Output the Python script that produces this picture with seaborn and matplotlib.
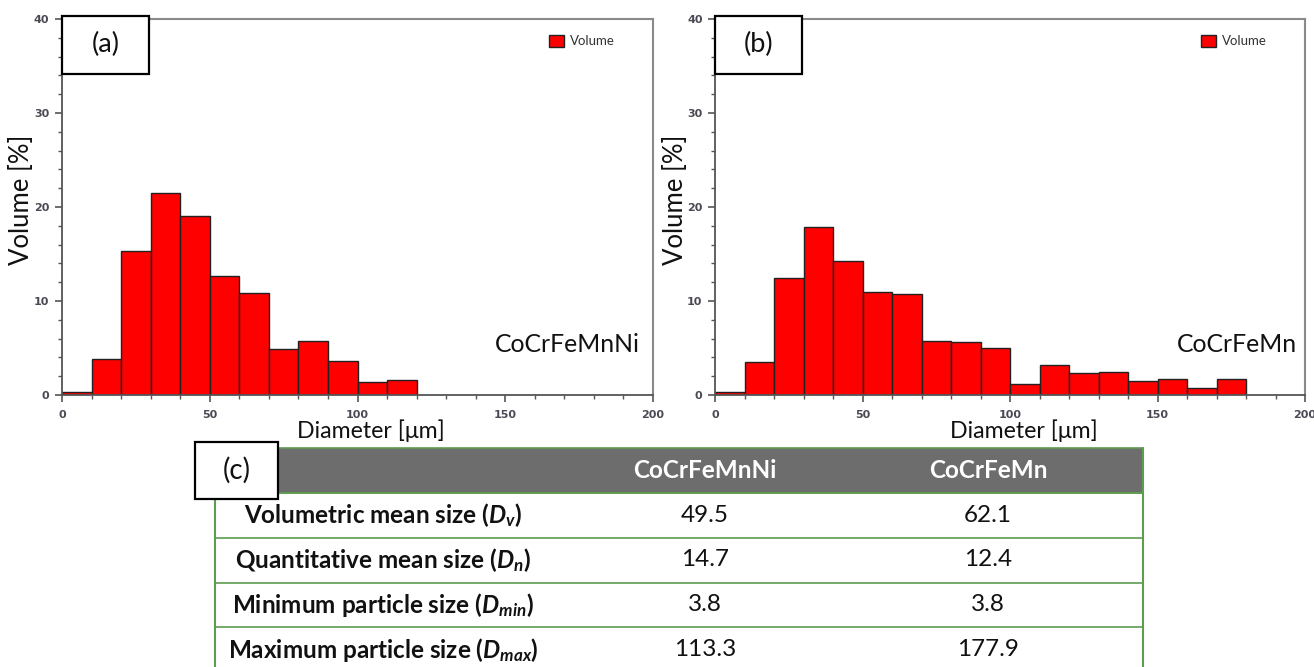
import numpy as np
import pandas as pd
import matplotlib
matplotlib.use("Agg")
import matplotlib.pyplot as plt
from matplotlib.patches import Rectangle
import seaborn as sns

# ---------------- data ----------------
bin_centers_a = [5, 15, 25, 35, 45, 55, 65, 75, 85, 95, 105, 115]
volume_a = [0.3, 3.8, 15.3, 21.5, 19.0, 12.7, 10.9, 4.9, 5.7, 3.6, 1.35, 1.6]

bin_centers_b = [5, 15, 25, 35, 45, 55, 65, 75, 85, 95, 105, 115, 125, 135, 145, 155, 165, 175]
volume_b = [0.3, 3.5, 12.4, 17.85, 14.3, 11.0, 10.75, 5.7, 5.6, 5.0, 1.2, 3.15, 2.35, 2.4, 1.5, 1.75, 0.75, 1.75]

bin_edges_a = [0, 10, 20, 30, 40, 50, 60, 70, 80, 90, 100, 110, 120]
bin_edges_b = [0, 10, 20, 30, 40, 50, 60, 70, 80, 90, 100, 110, 120, 130, 140, 150, 160, 170, 180]

alloys = ["CoCrFeMnNi", "CoCrFeMn"]
panel_tags = ["(a)", "(b)"]
table_rows = [
    r"Volumetric mean size ($D_{v}$)",
    r"Quantitative mean size ($D_{n}$)",
    r"Minimum particle size ($D_{min}$)",
    r"Maximum particle size ($D_{max}$)",
]
table_vals_a = ["49.5", "14.7", "3.8", "113.3"]
table_vals_b = ["62.1", "12.4", "3.8", "177.9"]

x_ticks = [0, 50, 100, 150, 200]
y_ticks = [0, 10, 20, 30, 40]

# ---------------- style ----------------
sns.set_style("ticks")
plt.rcParams["font.family"] = ["Lato", "DejaVu Sans"]
plt.rcParams["mathtext.fontset"] = "custom"
plt.rcParams["mathtext.it"] = "Lato:italic:bold"
plt.rcParams["mathtext.rm"] = "Lato:bold"
plt.rcParams["mathtext.bf"] = "Lato:bold"

W, H = 1314, 667
fig = plt.figure(figsize=(W / 100, H / 100), dpi=100)

axes_px = [(62, 653), (715, 1305)]
top_px, bot_px = 19, 395

datasets = [
    (bin_centers_a, volume_a, bin_edges_a),
    (bin_centers_b, volume_b, bin_edges_b),
]

for i, ((xl, xr), (centers, vols, edges)) in enumerate(zip(axes_px, datasets)):
    ax = fig.add_axes([xl / W, 1 - bot_px / H, (xr - xl) / W, (bot_px - top_px) / H])
    df = pd.DataFrame({"Diameter": centers, "Volume": vols})
    sns.histplot(data=df, x="Diameter", weights="Volume", bins=edges, ax=ax,
                 color="#ff0000", edgecolor="#222222", linewidth=1.0, alpha=1,
                 label="Volume")
    ax.set_xlim(0, 200)
    ax.set_ylim(0, 40)
    ax.set_xticks(x_ticks)
    ax.set_yticks(y_ticks)
    ax.set_xticks(np.arange(0, 201, 10), minor=True)
    ax.set_yticks(np.arange(0, 41, 2), minor=True)
    ax.tick_params(axis="both", which="major", length=5, width=1.2, color="#555555",
                   labelsize=8, labelcolor="#4a4a55")
    ax.tick_params(axis="x", which="major", pad=6)
    ax.tick_params(axis="y", which="major", pad=4)
    ax.tick_params(axis="both", which="minor", length=3, width=1.0, color="#555555")
    for lab in ax.get_xticklabels() + ax.get_yticklabels():
        lab.set_fontweight("bold")
        lab.set_family("DejaVu Sans")
    for s in ["left", "bottom"]:
        ax.spines[s].set_color("#555555")
        ax.spines[s].set_linewidth(1.3)
    for s in ["top", "right"]:
        ax.spines[s].set_color("#8a8a8a")
        ax.spines[s].set_linewidth(1.5)

    ax.set_xlabel("Diameter [μm]", fontsize=16.7, color="#111111")
    ax.set_ylabel("Volume [%]", fontsize=18.5, color="#111111")
    ax.xaxis.set_label_coords(0.523, -0.064)
    ax.yaxis.set_label_coords(-0.048 if i == 0 else -0.046, 0.52)

    leg = ax.legend(loc="upper left", bbox_to_anchor=(0.824, 0.958), frameon=False,
                    fontsize=9.5, handlelength=1.15, handleheight=1.0, handletextpad=0.45,
                    borderpad=0, borderaxespad=0)
    for t in leg.get_texts():
        t.set_color("#333333")

    ax.text(0.978 if i == 0 else 0.986, 0.133, alloys[i], transform=ax.transAxes,
            ha="right", va="center", fontsize=17.8, color="#111111")

    # panel tag box
    ax.add_patch(Rectangle((0, 0.854), 0.147, 0.154, transform=ax.transAxes,
                           fill=True, facecolor="white", edgecolor="black",
                           linewidth=1.6, clip_on=False, zorder=5))
    ax.text(0.0735, 0.931, panel_tags[i], transform=ax.transAxes, ha="center",
            va="center", fontsize=19.5, color="#111111", zorder=6)

# ---------------- table (pixel overlay) ----------------
tax = fig.add_axes([0, 0, 1, 1])
tax.set_xlim(0, W)
tax.set_ylim(H, 0)
tax.axis("off")

t_left, t_right = 215, 1143
row_edges = [448, 493, 537.5, 582.5, 627, 672]
col_centers = [383, 705, 988]
green = "#5e9c50"

tax.add_patch(Rectangle((t_left, row_edges[0]), t_right - t_left, row_edges[1] - row_edges[0],
                        facecolor="#6d6d6d", edgecolor=green, linewidth=1.2))
for y in row_edges[1:]:
    tax.plot([t_left, t_right], [y, y], color=green, linewidth=1.2)
tax.plot([t_left, t_left], [row_edges[1], H], color=green, linewidth=1.5)
tax.plot([t_right, t_right], [row_edges[0], H], color=green, linewidth=1.5)

hy = (row_edges[0] + row_edges[1]) / 2
tax.text(col_centers[1], hy, alloys[0], ha="center", va="center", color="white",
         fontsize=17.5, fontweight="bold")
tax.text(col_centers[2], hy, alloys[1], ha="center", va="center", color="white",
         fontsize=17.5, fontweight="bold")

for r, (lab, va_, vb_) in enumerate(zip(table_rows, table_vals_a, table_vals_b)):
    yc = (row_edges[r + 1] + row_edges[r + 2]) / 2
    tax.text(col_centers[0], yc, lab, ha="center", va="center", fontsize=17.5,
             fontweight="bold", color="#111111")
    tax.text(col_centers[1], yc, va_, ha="center", va="center", fontsize=17.5, color="#111111")
    tax.text(col_centers[2], yc, vb_, ha="center", va="center", fontsize=17.5, color="#111111")

# (c) tag box
tax.add_patch(Rectangle((195, 442), 83, 57, facecolor="white", edgecolor="black",
                        linewidth=1.6, zorder=5))
tax.text(236.5, 470.5, "(c)", ha="center", va="center", fontsize=20, color="#111111", zorder=6)

fig.savefig("out.png", dpi=100)
